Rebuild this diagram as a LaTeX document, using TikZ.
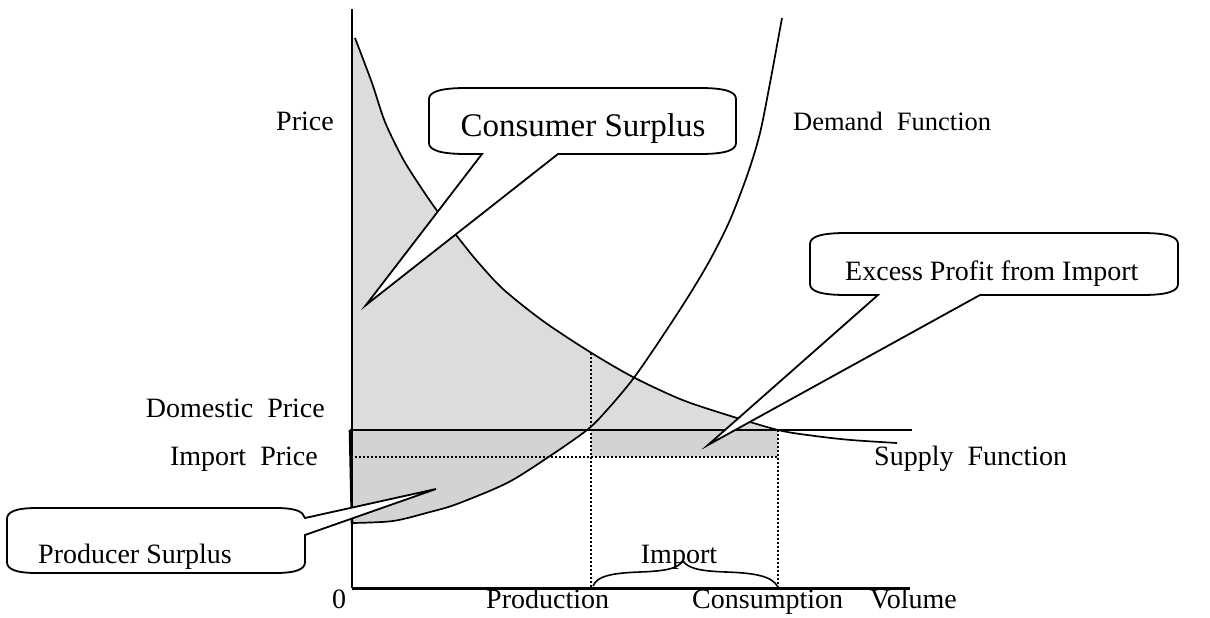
\documentclass[tikz,border=0pt]{standalone}
\usepackage{fontspec}
\setmainfont{Liberation Serif}
\definecolor{csgray}{RGB}{220,220,220}
\definecolor{psgray}{RGB}{211,211,211}
\begin{document}
\begin{tikzpicture}[x=1pt,y=-1pt,
  curve/.style={line width=1.7pt},
  callout/.style={line width=1.8pt, fill=white, line join=miter},
  dotline/.style={line width=1.5pt, dash pattern=on 1.5pt off 2.5pt},
  lbl/.style={font=\fontsize{28}{30}\selectfont, inner sep=0pt},
]
\useasboundingbox (0,0) rectangle (1210,618);
\def\downpts{(355,38) (372,83) (385,122) (403,159) (422,189) (438,212) (460,240) (477,261) (503,289) (543,321) (590,352) (633,377) (680,399) (721,413) (778,430) (815,436) (851,440) (897,443)}
\def\uppts{(352,523) (393,521) (430,512) (457,504) (507,483) (547,458) (587,430) (607,410) (633,379) (660,340) (688,297) (710,260) (730,220) (748,173) (760,133) (770,83) (782,18)}

% ---- grey areas
\begin{scope}
  \clip (352,0) rectangle (1000,430);
  \fill[csgray] (352,430) -- (352,38) -- plot[smooth] coordinates {\downpts} -- (897,430) -- cycle;
\end{scope}
\begin{scope}
  \clip (352,430) rectangle (1000,600);
  \fill[psgray] (352,430) -- (352,523) -- plot[smooth] coordinates {(352,523) (393,521) (430,512) (457,504) (507,483) (547,458) (587,430) (607,410)} -- (607,430) -- cycle;
\end{scope}
\fill[psgray] (591,430) rectangle (778,457);

% ---- dotted guides
\coordinate (prodtop) at (591,353);
\coordinate (prodbot) at (591,588);
\coordinate (constop) at (778,430);
\coordinate (consbot) at (778,588);
\coordinate (impl) at (355,457);
\coordinate (impr) at (778,457);
\draw[dotline] (impl) -- (impr);
\draw[dotline] (prodtop) -- (prodbot);
\draw[dotline] (constop) -- (consbot);

% ---- axes and price line
\coordinate (origin) at (352,588);
\coordinate (ytop) at (352,9);
\coordinate (xend) at (910,588);
\draw[line width=1.8pt] (ytop) -- (origin);
\draw[line width=3pt] (origin) -- (xend);
\coordinate (domL) at (350,430);
\coordinate (domR) at (912,430);
\draw[line width=1.7pt] (domL) -- (domR);
\draw[line width=2.6pt] (domL) -- (352,523);

% ---- curves
\draw[curve] plot[smooth] coordinates {\downpts};
\draw[curve] plot[smooth] coordinates {\uppts};

% ---- brace
\draw[line width=1.6pt] (593,586) .. controls (597,576) and (612,573) .. (640,572) .. controls (668,571) and (678,568) .. (683,561) .. controls (688,568) and (698,571) .. (726,572) .. controls (755,573) and (772,576) .. (778,587);

% ---- callouts
\coordinate (cstip) at (366,305);
\draw[callout] (429,99) .. controls (429,92) and (440,88) .. (466,88) -- (700,88) .. controls (726,88) and (736,92) .. (736,99) -- (736,143) .. controls (736,150) and (726,154) .. (700,154) -- (558,154) -- (cstip) -- (482,154) -- (466,154) .. controls (440,154) and (429,150) .. (429,143) -- cycle;

\coordinate (eptip) at (708,445);
\draw[callout] (810,244) .. controls (810,237) and (820,233) .. (846,233) -- (1142,233) .. controls (1168,233) and (1178,237) .. (1178,244) -- (1178,284) .. controls (1178,291) and (1168,295) .. (1142,295) -- (980,295) -- (eptip) -- (878,295) -- (846,295) .. controls (820,295) and (810,291) .. (810,284) -- cycle;

\coordinate (pstip) at (436,489);
\draw[callout] (7,519) .. controls (7,512) and (15,508) .. (37,508) -- (275,508) .. controls (295,508) and (303,511) .. (305,518) -- (pstip) -- (305,535) -- (305,562) .. controls (305,569) and (297,573) .. (275,573) -- (37,573) .. controls (15,573) and (7,569) .. (7,562) -- cycle;

% ---- texts
\node[lbl, anchor=base west] (price) at (276,130) {Price};
\node[lbl, anchor=base west, font=\fontsize{26.5}{28}\selectfont] (demand) at (793,130) {Demand\hspace{14pt}Function};
\node[inner sep=0pt, anchor=base, font=\fontsize{33}{35}\selectfont] (cs) at (583,136) {Consumer Surplus};
\node[lbl, anchor=base west] (ep) at (845,280) {Excess Profit from Import};
\node[lbl, anchor=base east] (dp) at (325,417) {Domestic\ \ Price};
\node[lbl, anchor=base east] (ip) at (318,465) {Import\ \ Price};
\node[lbl, anchor=base west] (sf) at (874,465) {Supply\ \ Function};
\node[lbl, anchor=base west] (ps) at (38,563) {Producer Surplus};
\node[lbl, anchor=base] (zero) at (339,608) {0};
\node[lbl, anchor=base west] (prod) at (486,608) {Production};
\node[lbl, anchor=base west] (cons) at (692,608) {Consumption};
\node[lbl, anchor=base west] (vol) at (870,608) {Volume};
\node[lbl, anchor=base] (imp) at (679,563) {Import};
\end{tikzpicture}
\end{document}
